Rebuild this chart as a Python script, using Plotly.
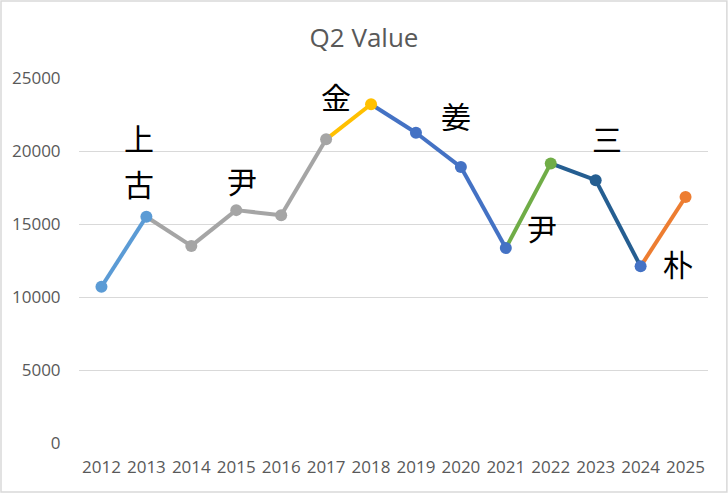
import plotly.graph_objects as go

years = [2012, 2013, 2014, 2015, 2016, 2017, 2018, 2019, 2020, 2021, 2022, 2023, 2024, 2025]
q2_values = [10700, 15500, 13500, 15950, 15600, 20800, 23200, 21250, 18900, 13350, 19150, 18000, 12100, 16850]
# colour of each point's marker, and of the segment that ends at that point
marker_colors = ["#5B9BD5", "#5B9BD5", "#A5A5A5", "#A5A5A5", "#A5A5A5", "#A5A5A5", "#FFC000",
                 "#4472C4", "#4472C4", "#4472C4", "#70AD47", "#255E91", "#4472C4", "#ED7D31"]
segment_colors = ["#5B9BD5", "#A5A5A5", "#A5A5A5", "#A5A5A5", "#A5A5A5", "#FFC000",
                  "#4472C4", "#4472C4", "#4472C4", "#70AD47", "#255E91", "#255E91", "#ED7D31"]
y_ticks = [0, 5000, 10000, 15000, 20000, 25000]

label_text = ["上", "古", "尹", "金", "姜", "尹", "三", "朴"]
label_x = [2012.83, 2012.83, 2015.13, 2017.22, 2019.9, 2021.8, 2023.25, 2024.83]
label_y = [20950, 17800, 18000, 23800, 22450, 14800, 20900, 12300]

font = "'Open Sans', sans-serif"

fig = go.Figure()
for i, c in enumerate(segment_colors):
    fig.add_trace(go.Scatter(x=years[i:i + 2], y=q2_values[i:i + 2], mode="lines",
                             line=dict(color=c, width=4), hoverinfo="skip"))
fig.add_trace(go.Scatter(x=years, y=q2_values, mode="markers",
                         marker=dict(color=marker_colors, size=12)))

for t, x, y in zip(label_text, label_x, label_y):
    fig.add_annotation(x=x, y=y, text=t, showarrow=False,
                       font=dict(family="Noto Sans CJK KR", size=30, color="black"))

# chart border
fig.add_shape(type="rect", xref="paper", yref="paper", x0=-0.124, x1=1.030, y0=-0.134, y1=1.211,
              line=dict(color="#D9D9D9", width=1.5))

fig.update_layout(
    width=728, height=493,
    margin=dict(l=79, r=20, t=78, b=50),
    paper_bgcolor="white", plot_bgcolor="white",
    showlegend=False,
    title=dict(text="Q2 Value", x=0.5, xanchor="center", y=0.923, yanchor="middle",
               font=dict(family=font, size=26, color="#595959")),
    font=dict(family=font, size=17, color="#595959"),
    xaxis=dict(tickvals=years, ticktext=[str(y) for y in years], range=[2011.5, 2025.5],
               showgrid=False, zeroline=False, showline=False,
               ticks="outside", ticklen=9, tickcolor="white",
               tickfont=dict(size=17, color="#595959")),
    yaxis=dict(range=[0, 25000], tickvals=y_ticks, ticktext=[str(v) for v in y_ticks],
               showgrid=True, gridcolor="#D9D9D9", gridwidth=1.3, zeroline=False,
               showline=False, ticks="outside", ticklen=14, tickcolor="white",
               tickfont=dict(size=17, color="#595959")),
)

fig.write_html("out.html", config={"displayModeBar": False},
               post_script="document.body.style.margin='0';")
